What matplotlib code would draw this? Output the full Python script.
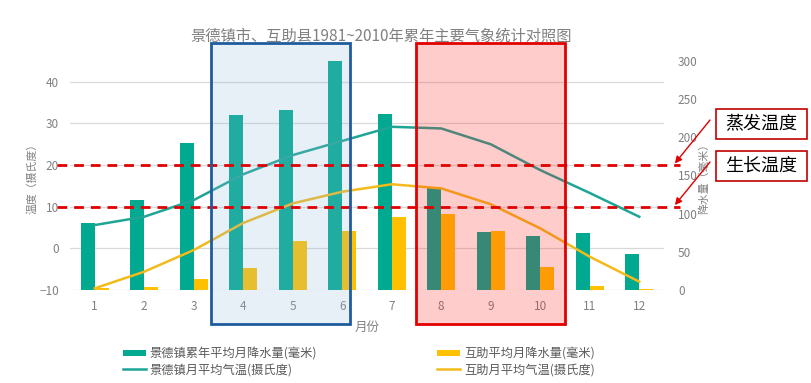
import numpy as np
import matplotlib.pyplot as plt
from matplotlib.patches import Rectangle

plt.rcParams['font.family'] = ['Noto Sans CJK SC', 'DejaVu Sans']

months = np.arange(1, 13)
month_labels = [str(m) for m in months]
jdz_prec = [88, 118, 193, 229, 236, 300, 230, 135, 76, 71, 75, 47]
hz_prec = [3, 4.3, 14.4, 28.8, 64.6, 77, 95.6, 99.6, 77.5, 30, 5, 1.5]
jdz_temp = [5.6, 7.6, 11.6, 17.8, 22.4, 25.8, 29.2, 28.8, 25.0, 18.8, 13.3, 7.6]
hz_temp = [-9.6, -5.6, -0.4, 6.1, 10.8, 13.6, 15.4, 14.4, 10.6, 4.8, -2.0, -8.0]
ref_temps = [20, 10]
ref_labels = ['蒸发温度', '生长温度']

gray = '#808080'
teal_bar = '#00A98F'
yellow_bar = '#FFC000'
teal_line = '#1FA595'
yellow_line = '#F2BA1B'

fig = plt.figure(figsize=(8.12, 3.83), dpi=100)
ax = fig.add_axes([70 / 812, 93 / 383, 594 / 812, 229 / 383])
ax2 = ax.twinx()
ax3 = ax.twinx()

# left axis: temperature grid
ax.set_xlim(0.5, 12.5)
ax.set_ylim(-10, 45)
ax.set_yticks([-10, 0, 10, 20, 30, 40])
ax.grid(axis='y', color='#D9D9D9', lw=0.9)
ax.set_axisbelow(True)
ax.set_xticks(months)
ax.set_xticklabels(month_labels)
ax.tick_params(length=0, colors=gray, labelsize=8.5)
ax.tick_params(axis='x', pad=7)
ax.tick_params(axis='y', pad=8)
ax.set_ylabel('温度（摄氏度）', color=gray, fontsize=7.8)
ax.yaxis.set_label_coords(-0.055, 0.5)
ax.set_xlabel('月份', color=gray, fontsize=9)
ax.xaxis.set_label_coords(0.5, -0.135)

# right axis: precipitation bars
w = 0.28
b1 = ax2.bar(months - w / 2, jdz_prec, w, color=teal_bar, label='景德镇累年平均月降水量(毫米)')
b2 = ax2.bar(months + w / 2, hz_prec, w, color=yellow_bar, label='互助平均月降水量(毫米)')
ax2.set_ylim(0, 300)
ax2.set_yticks(range(0, 301, 50))
ax2.tick_params(length=0, colors=gray, labelsize=8.5, pad=10)
ax2.set_ylabel('降水量（毫米）', color=gray, fontsize=7.8)
ax2.yaxis.set_label_coords(1.058, 0.5)

# temperature lines on top
ax3.set_ylim(ax.get_ylim())
ax3.set_yticks([])
l1, = ax3.plot(months, jdz_temp, color=teal_line, lw=1.8, label='景德镇月平均气温(摄氏度)', zorder=2)
l2, = ax3.plot(months, hz_temp, color=yellow_line, lw=1.8, label='互助月平均气温(摄氏度)', zorder=2)

for a in (ax, ax2, ax3):
    for s in a.spines.values():
        s.set_visible(False)

# highlighted month ranges
tr = ax3.get_xaxis_transform()
ax3.add_patch(Rectangle((3.34, -0.148), 2.82, 1.227, transform=tr, clip_on=False,
                        facecolor='#94B7DE', alpha=0.22, edgecolor='none', zorder=3))
ax3.add_patch(Rectangle((3.34, -0.148), 2.82, 1.227, transform=tr, clip_on=False,
                        facecolor='none', edgecolor='#1F5C9E', lw=2, zorder=5))
ax3.add_patch(Rectangle((7.48, -0.148), 3.02, 1.227, transform=tr, clip_on=False,
                        facecolor='#FF1A1A', alpha=0.22, edgecolor='none', zorder=3))
ax3.add_patch(Rectangle((7.48, -0.148), 3.02, 1.227, transform=tr, clip_on=False,
                        facecolor='none', edgecolor='#E00000', lw=2, zorder=5))

# reference temperatures
for t in ref_temps:
    ax3.axhline(t, xmin=-0.022, xmax=1.027, color='#E00000', lw=2,
                ls=(0, (3.5, 2.5)), clip_on=False, zorder=4)

# annotation boxes with arrows
for i, (t, lab) in enumerate(zip(ref_temps, ref_labels)):
    cy = 383 - (124 + 42 * i)
    fig.patches.append(Rectangle((716, cy - 15), 91, 30, transform=None,
                                 facecolor='white', edgecolor='#C00000', lw=1.2))
    fig.text(761.5 / 812, cy / 383, lab, ha='center', va='center', fontsize=13, color='black')
    ax3.annotate('', xy=(12.72, t + 0.4), xycoords='data',
                 xytext=(710, cy + 4), textcoords='figure pixels',
                 arrowprops=dict(arrowstyle='-|>', color='#E00000', lw=1, mutation_scale=10,
                                 shrinkA=0, shrinkB=0), annotation_clip=False)

fig.text(381 / 812, 1 - 36 / 383, '景德镇市、互助县1981~2010年累年主要气象统计对照图',
         ha='center', va='center', fontsize=11, color=gray)

fig.legend([b1, l1, b2, l2],
           [b1.get_label(), l1.get_label(), b2.get_label(), l2.get_label()],
           ncol=2, loc='upper left', bbox_to_anchor=(112 / 812, 1 - 336 / 383),
           frameon=False, fontsize=8.8, labelcolor='#595959', handlelength=1.9,
           handleheight=0.4, handletextpad=0.3, columnspacing=9.8, labelspacing=0.25)

fig.savefig('out.png', dpi=100)
